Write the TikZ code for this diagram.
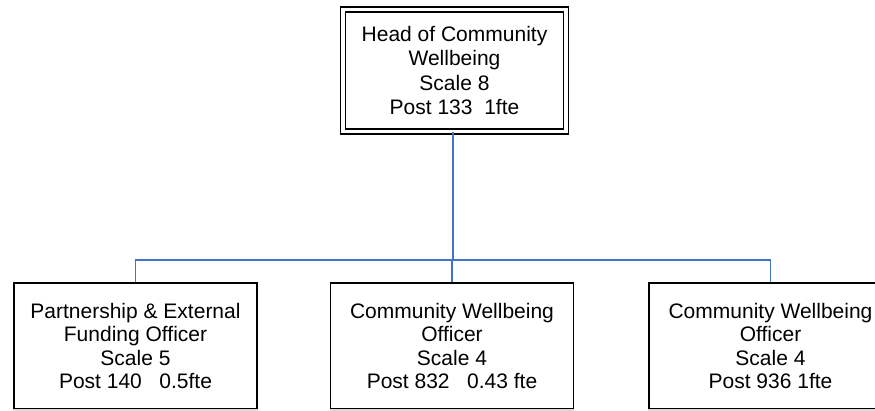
\documentclass[tikz,border=0pt]{standalone}
\usepackage{fontspec}
\setmainfont{Liberation Sans}
\definecolor{linkblue}{RGB}{68,114,196}
\begin{document}
\begin{tikzpicture}[x=1pt,y=-1pt,
  boxtext/.style={align=center, inner sep=0pt, font=\fontsize{21}{23.5}\selectfont},
  post/.style={boxtext, draw=black, line width=1.6pt, minimum width=243pt, minimum height=126pt},
  head/.style={boxtext, draw=black, line width=1.4pt, double, double distance=3.4pt,
    minimum width=223pt, minimum height=122pt, font=\fontsize{21}{24.3}\selectfont},
  link/.style={draw=linkblue, line width=1.6pt}]
\useasboundingbox (0,0) rectangle (875,411);
\clip (0,0) rectangle (875,411);

% head of service
\node[head] (head) at (454.5,70.5)
  {Head of Community\\Wellbeing\\Scale 8\\Post 133~~1fte};

% posts reporting to the head
\node[post] (p1) at (135.5,346)
  {Partnership \& External\\Funding Officer\\Scale 5\\Post 140~~~0.5fte};
\node[post] (p2) at (452,346)
  {Community Wellbeing\\Officer\\Scale 4\\Post 832~~~0.43 fte};
\node[post] (p3) at (770.5,346)
  {Community Wellbeing\\Officer\\Scale 4\\Post 936 1fte};

% faint lower edges
\foreach \n in {p1,p2,p3}
  \draw[white!70!gray, line width=1.8pt] (\n.south west) -- (\n.south east);

% reporting lines
\coordinate (bus) at (453,260);
\draw[link] (head.south -| bus) -- (bus);
\draw[link] (p1.north) -- (p1.north |- bus) -- (p3.north |- bus) -- (p3.north);
\draw[link] (p2.north) -- (p2.north |- bus);
\end{tikzpicture}
\end{document}
